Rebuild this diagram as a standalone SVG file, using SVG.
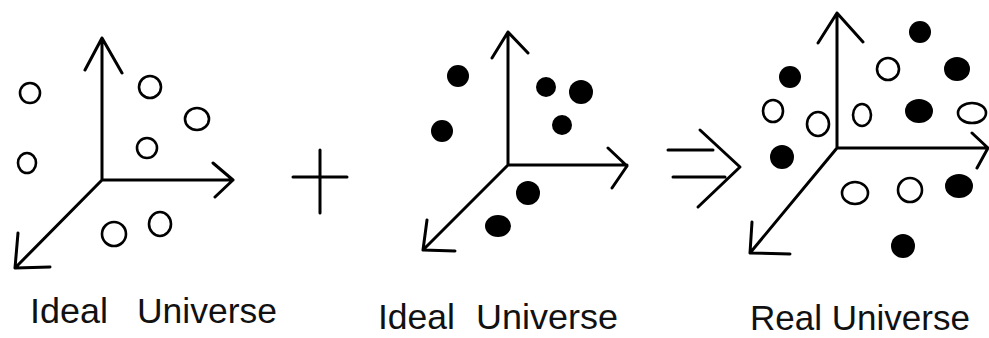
<svg xmlns="http://www.w3.org/2000/svg" width="989" height="338" viewBox="0 0 989 338">
<style>
.ax{fill:none;stroke:#000;stroke-width:3;stroke-linecap:round;stroke-linejoin:round}
.o{fill:#fff;stroke:#000;stroke-width:2.6}
.f{fill:#000}
.t{font-family:"Liberation Sans",Arial,sans-serif;font-size:35px;fill:#111}
</style>
<rect width="989" height="338" fill="#fff"/>
<g id="panel1">
  <g id="axes1">
    <path class="ax" d="M102,180 V38 M85,70 L102,38 L122,73 M102,180 H233 M213,163 L233,180 L215,197 M102,180 L15,268 M18,233 L15,268 L50,267"/>
  </g>
  <g id="points1">
    <ellipse class="o" cx="30" cy="93" rx="10" ry="10"/>
    <ellipse class="o" cx="150" cy="87" rx="11" ry="11"/>
    <ellipse class="o" cx="197" cy="119" rx="12" ry="11"/>
    <ellipse class="o" cx="147" cy="148" rx="10" ry="10"/>
    <ellipse class="o" cx="27" cy="163" rx="9" ry="10"/>
    <ellipse class="o" cx="114" cy="234" rx="12" ry="12"/>
    <ellipse class="o" cx="160" cy="224" rx="11" ry="12"/>
  </g>
  <text class="t" x="30" y="323" textLength="78" lengthAdjust="spacingAndGlyphs">Ideal</text>
  <text class="t" x="137" y="323" textLength="140" lengthAdjust="spacingAndGlyphs">Universe</text>
</g>
<g id="plus">
  <path class="ax" d="M320,150 V213 M293,177 H347"/>
</g>
<g id="panel2">
  <g id="axes2">
    <path class="ax" d="M508,165 V32 M492,58 L508,32 L528,53 M508,165 H627 M608,148 L627,166 L612,188 M508,165 L423,250 M427,220 L423,250 L455,251"/>
  </g>
  <g id="points2">
    <ellipse class="f" cx="458" cy="76" rx="11" ry="11"/>
    <ellipse class="f" cx="442" cy="131" rx="11" ry="11"/>
    <ellipse class="f" cx="546" cy="87" rx="10" ry="10"/>
    <ellipse class="f" cx="581" cy="92" rx="12" ry="12"/>
    <ellipse class="f" cx="562" cy="125" rx="10" ry="10"/>
    <ellipse class="f" cx="528" cy="193" rx="12" ry="12"/>
    <ellipse class="f" cx="498" cy="226" rx="13" ry="11"/>
  </g>
  <text class="t" x="378" y="329" textLength="77" lengthAdjust="spacingAndGlyphs">Ideal</text>
  <text class="t" x="476" y="329" textLength="142" lengthAdjust="spacingAndGlyphs">Universe</text>
</g>
<g id="implies">
  <path class="ax" d="M668,150 H713 M673,177 H725 M700,130 L740,167 L698,207"/>
</g>
<g id="panel3">
  <g id="axes3">
    <path class="ax" d="M837,148 V13 M818,43 L837,13 L863,42 M837,148 H988 M972,133 L988,148 L977,168 M837,148 L750,253 M752,222 L750,253 L790,254"/>
  </g>
  <g id="points3">
    <ellipse class="f" cx="920" cy="32" rx="11" ry="11"/>
    <ellipse class="f" cx="790" cy="77" rx="11" ry="11"/>
    <ellipse class="f" cx="957" cy="69" rx="13" ry="12"/>
    <ellipse class="f" cx="919" cy="111" rx="14" ry="12"/>
    <ellipse class="f" cx="782" cy="157" rx="12" ry="12"/>
    <ellipse class="f" cx="959" cy="186" rx="14" ry="12"/>
    <ellipse class="f" cx="903" cy="246" rx="12" ry="12"/>
    <ellipse class="o" cx="888" cy="69" rx="11" ry="11"/>
    <ellipse class="o" cx="773" cy="111" rx="10" ry="11"/>
    <ellipse class="o" cx="818" cy="124" rx="11" ry="12"/>
    <ellipse class="o" cx="862" cy="115" rx="9" ry="11"/>
    <ellipse class="o" cx="972" cy="113" rx="14" ry="10"/>
    <ellipse class="o" cx="855" cy="193" rx="13" ry="11"/>
    <ellipse class="o" cx="910" cy="190" rx="12" ry="12"/>
  </g>
  <text class="t" x="750" y="330" textLength="220" lengthAdjust="spacingAndGlyphs">Real Universe</text>
</g>
</svg>
